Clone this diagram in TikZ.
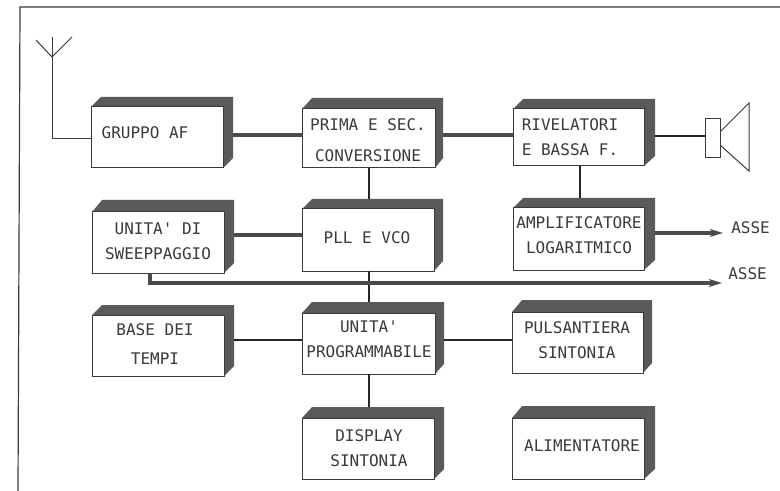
\documentclass[tikz,border=0pt]{standalone}
\usepackage{fontspec}
\setmonofont{DejaVu Sans Mono}
\usetikzlibrary{arrows.meta,fit}
\definecolor{inkc}{HTML}{3A3A3A}
\definecolor{shadec}{HTML}{5A5A5A}
\definecolor{wirec}{HTML}{4A4A4A}
\tikzset{
  x=0.75pt,y=-0.75pt,
  frontbox/.style={draw=inkc,line width=0.75pt,fill=white,inner sep=0pt,outer sep=0pt},
  blockshade/.style={fill=shadec,draw=none},
  lbl/.style={font=\ttfamily\fontsize{12}{19}\selectfont,text=inkc,align=center,inner sep=0pt},
  fatwire/.style={draw=wirec,line width=2.4pt},
  darkwire/.style={draw=black!85,line width=2.2pt},
  finewire/.style={draw=black!85,line width=1.5pt},
  thinline/.style={draw=inkc,line width=0.75pt},
  arrowwire/.style={fatwire,-{Stealth[length=10pt,width=6pt]}},
}
\newcommand{\blk}[7]{%
  \fill[blockshade] (#2,#3) -- ({#2+10},#7) -- (#6,#7) -- (#6,{#5-10}) -- (#4,#5) -- cycle;
  \node[frontbox,fit={(#2,#3) (#4,#5)}] (#1) {};
}
\begin{document}
\begin{tikzpicture}
\useasboundingbox (0,0) rectangle (780,491);
% frame
\coordinate (fa) at (780,7);
\coordinate (fb) at (20,7);
\coordinate (fc) at (18,491);
\draw[draw=inkc,line width=0.9pt] (fa) -- (fb) -- (fc);

\blk{af}{91}{107}{223}{168}{233}{97}
\blk{prima}{302}{109}{435}{168}{443}{98}
\blk{riv}{513}{109}{644}{166}{655}{99}
\blk{sweep}{92}{212}{224}{273}{234}{200}
\blk{pll}{302}{209}{434}{271}{443}{199}
\blk{amp}{513}{208}{644}{270}{655}{198}
\blk{base}{92}{315}{224}{376}{234}{305}
\blk{prog}{302}{313}{435}{374}{444}{302}
\blk{puls}{512}{312}{643}{373}{652}{300}
\blk{disp}{302}{418}{434}{479}{444}{407}
\blk{alim}{512}{418}{644}{479}{655}{406}

\node[lbl] (taf) at (145,133) {GRUPPO AF};
\node[lbl] (tprima) at (368,140.5) {PRIMA E SEC.\\[4pt]CONVERSIONE};
\node[lbl] (triv) at (570,137.5) {RIVELATORI\\E BASSA F.};
\node[lbl] (tsweep) at (158,241) {UNITA' DI\\SWEEPPAGGIO};
\node[lbl] (tpll) at (367,238) {PLL E VCO};
\node[lbl] (tamp) at (579,235.5) {AMPLIFICATORE\\LOGARITMICO};
\node[lbl] (tbase) at (155,344) {BASE DEI\\[3pt]TEMPI};
\node[lbl] (tprog) at (369,339.5) {UNITA'\\PROGRAMMABILE};
\node[lbl] (tpuls) at (577,340.5) {PULSANTIERA\\SINTONIA};
\node[lbl] (tdisp) at (369,448) {DISPLAY\\SINTONIA};
\node[lbl] (talim) at (582,446) {ALIMENTATORE};
\node[lbl,anchor=west] (assey) at (731,228) {ASSE};
\node[lbl,anchor=west] (assex) at (728,274) {ASSE};

% antenna
\coordinate (anttop) at (52,37);
\coordinate (antv) at (52,57);
\coordinate (antl) at (36,40);
\coordinate (antr) at (72,37);
\coordinate (antc) at (52,139);
\draw[thinline] (anttop) -- (antc) -- (af.west |- antc);
\draw[thinline] (antl) -- (antv) -- (antr);

% loudspeaker
\node[draw=inkc,line width=0.75pt,fill=white,inner sep=0pt,fit={(705,119) (720,158)}] (spk) {};
\coordinate (c1) at (720,132);
\coordinate (c2) at (749,103);
\coordinate (c3) at (749,171);
\coordinate (c4) at (720,145);
\draw[thinline] (c1) -- (c2) -- (c3) -- (c4);

% wire anchors on the shaded sides
\coordinate (w1) at (233,135);
\coordinate (w2) at (443,135);
\coordinate (w3) at (655,136);
\coordinate (w4) at (234,235);
\coordinate (w5) at (234,340);
\coordinate (w6) at (444,340);
\coordinate (w7) at (655,233);
\coordinate (w8) at (369,168);
\coordinate (w9) at (580,166);
\coordinate (w10) at (369,271);
\coordinate (w11) at (369,374);
\coordinate (w12) at (150,273);
\coordinate (w13) at (150,283);
\coordinate (ey) at (723,233);
\coordinate (ex) at (722,283);

% connectors
\draw[fatwire] (w1) -- (w1 -| prima.west);
\draw[fatwire] (w2) -- (w2 -| riv.west);
\draw[darkwire] (w3) -- (w3 -| spk.west);
\draw[darkwire] (w8) -- (w8 |- 0,199);
\draw[darkwire] (w9) -- (w9 |- 0,198);
\draw[fatwire] (w4) -- (w4 -| pll.west);
\draw[darkwire] (w10) -- (w10 |- 0,302);
\draw[finewire] (w5) -- (w5 -| prog.west);
\draw[finewire] (w6) -- (w6 -| puls.west);
\draw[darkwire] (w11) -- (w11 |- 0,407);
\draw[arrowwire] (w7) -- (ey);
\draw[arrowwire] (w12) -- (w13) -- (ex);
\end{tikzpicture}
\end{document}
